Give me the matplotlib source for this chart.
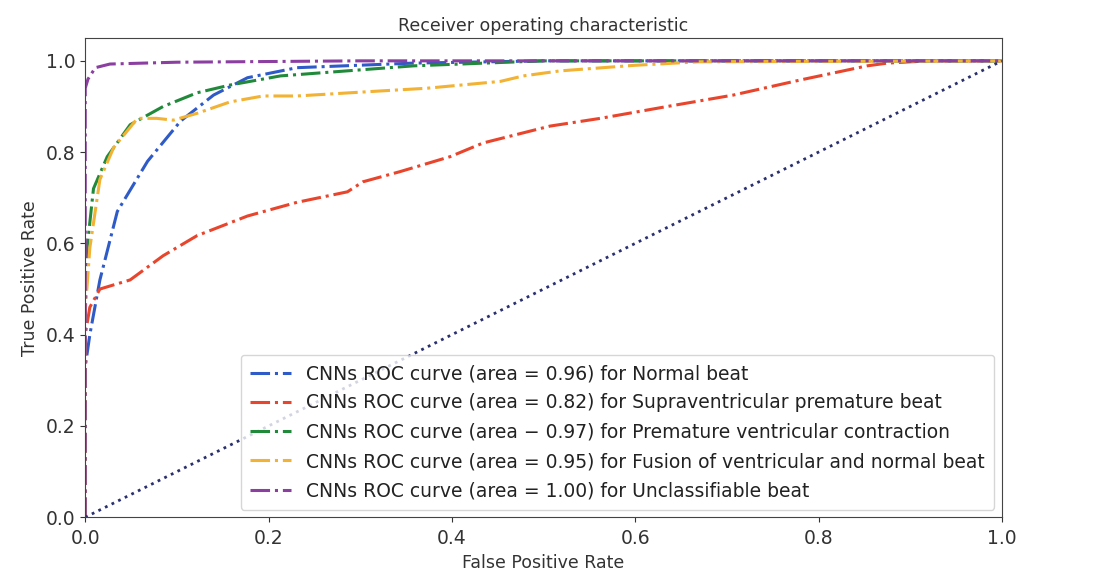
import matplotlib
matplotlib.use("Agg")
import matplotlib.pyplot as plt

# Data
normal_fpr = [0.0, 0.0, 0.005, 0.016, 0.035, 0.068, 0.104, 0.14, 0.177, 0.231, 0.358, 0.5, 1.0]
normal_tpr = [0.0, 0.33, 0.40, 0.52, 0.67, 0.78, 0.868, 0.925, 0.963, 0.985, 0.995, 1.0, 1.0]

supra_fpr = [0.0, 0.0, 0.005, 0.016, 0.049, 0.085, 0.122, 0.177, 0.231, 0.286, 0.303, 0.343,
             0.398, 0.434, 0.507, 0.562, 0.635, 0.707, 0.78, 0.853, 0.875, 0.92, 1.0]
supra_tpr = [0.0, 0.40, 0.46, 0.50, 0.52, 0.573, 0.617, 0.66, 0.69, 0.713, 0.735, 0.757,
             0.79, 0.82, 0.857, 0.874, 0.90, 0.925, 0.958, 0.989, 0.995, 1.0, 1.0]

pvc_fpr = [0.0, 0.0, 0.002, 0.009, 0.024, 0.049, 0.085, 0.122, 0.158, 0.213, 0.358, 0.5, 1.0]
pvc_tpr = [0.0, 0.45, 0.59, 0.72, 0.79, 0.86, 0.90, 0.93, 0.947, 0.967, 0.989, 1.0, 1.0]

fusion_fpr = [0.0, 0.0, 0.005, 0.016, 0.031, 0.057, 0.078, 0.096, 0.122, 0.158, 0.194, 0.231,
              0.322, 0.373, 0.453, 0.478, 0.518, 0.598, 0.67, 1.0]
fusion_tpr = [0.0, 0.45, 0.59, 0.74, 0.81, 0.874, 0.874, 0.87, 0.885, 0.91, 0.923, 0.923,
              0.934, 0.94, 0.955, 0.967, 0.978, 0.99, 0.998, 1.0]

unclass_fpr = [0.0, 0.0, 0.003, 0.011, 0.027, 0.1, 0.3, 1.0]
unclass_tpr = [0.0, 0.94, 0.96, 0.985, 0.993, 0.997, 1.0, 1.0]

labels = [
    "CNNs ROC curve (area = 0.96) for Normal beat",
    "CNNs ROC curve (area = 0.82) for Supraventricular premature beat",
    "CNNs ROC curve (area \u2212 0.97) for Premature ventricular contraction",
    "CNNs ROC curve (area = 0.95) for Fusion of ventricular and normal beat",
    "CNNs ROC curve (area = 1.00) for Unclassifiable beat",
]
colors = ["#2f5bc8", "#e8452c", "#218a3a", "#f2b233", "#8b3fa0"]

fig = plt.figure(figsize=(11.07, 5.76), dpi=100)
ax = fig.add_axes([0.077, 0.102, 0.828, 0.832])

series = [(normal_fpr, normal_tpr), (supra_fpr, supra_tpr), (pvc_fpr, pvc_tpr),
          (fusion_fpr, fusion_tpr), (unclass_fpr, unclass_tpr)]
for (x, y), c, lab in zip(series, colors, labels):
    ax.plot(x, y, linestyle='-.', color=c, lw=2.2, label=lab)

ax.plot([0, 1], [0, 1], color='#2a2f6e', linestyle=':', lw=2)

ax.set_xlim(0.0, 1.0)
ax.set_ylim(0.0, 1.05)
ax.set_xticks([0.0, 0.2, 0.4, 0.6, 0.8, 1.0])
ax.set_yticks([0.0, 0.2, 0.4, 0.6, 0.8, 1.0])
ax.tick_params(labelsize=13.5, colors='#333333')
ax.tick_params(axis='x', pad=5)
ax.set_xlabel("False Positive Rate", fontsize=12.5, color='#333333', labelpad=4)
ax.set_ylabel("True Positive Rate", fontsize=12.5, color='#333333', labelpad=5)
ax.set_title("Receiver operating characteristic", fontsize=12.5, color='#333333', pad=5)
for s in ax.spines.values():
    s.set_color('#444444')
leg = ax.legend(loc='lower right', fontsize=13.5, handlelength=2.2, labelspacing=0.55,
                borderaxespad=0.4, borderpad=0.5)
for t in leg.get_texts():
    t.set_color('#222222')

fig.savefig("out.png", dpi=100)
